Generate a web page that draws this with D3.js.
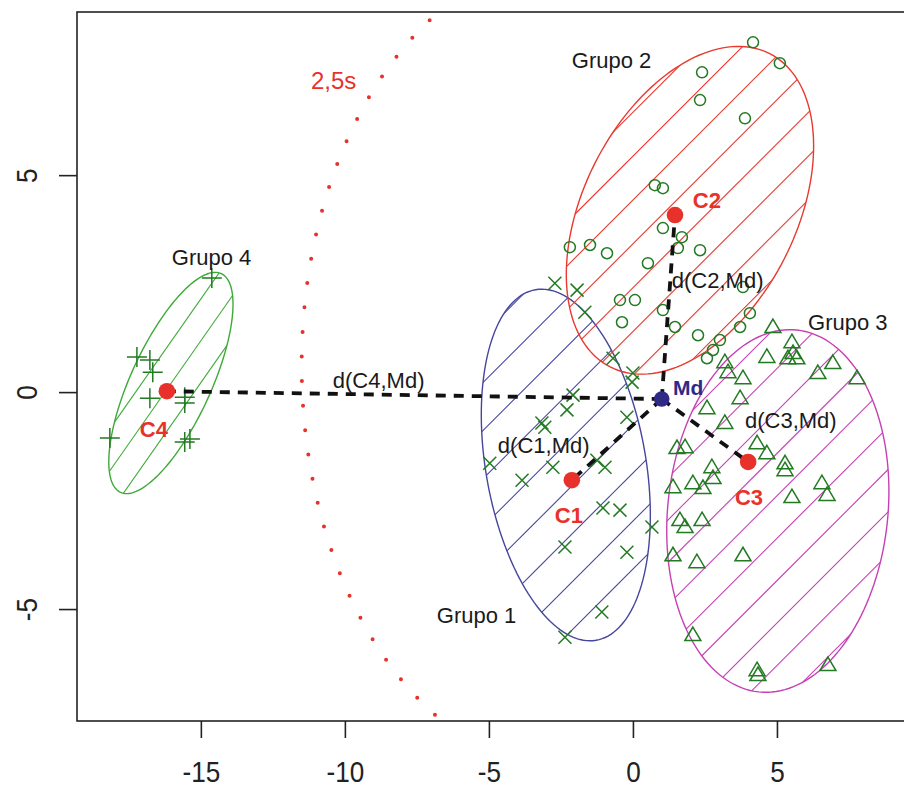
<!DOCTYPE html>
<html><head><meta charset="utf-8">
<script src="https://cdn.jsdelivr.net/npm/d3@7/dist/d3.min.js"></script>
<style>body{margin:0;background:#fff}svg{display:block;font-family:"Liberation Sans",Arial,sans-serif}</style>
</head><body><svg id="c" width="904" height="787"></svg>
<script>
// ---------- data ----------
const xLimits = [-19.3, 9.48];
const yLimits = [-7.58, 8.76];
const xTicks = [-15, -10, -5, 0, 5];
const yTicks = [-5, 0, 5];

const grupo1 = [[-2.71,2.51],[-1.94,2.35],[-1.67,1.84],[-0.69,0.78],[0.0,0.44],[-0.03,0.23],[-2.08,-0.07],[-2.29,-0.41],[-3.16,-0.71],[-3.06,-0.81],[-0.21,-0.58],[-4.97,-1.64],[-2.78,-1.73],[-3.85,-2.03],[-1.25,-1.57],[-0.97,-1.73],[-1.04,-2.67],[-0.45,-2.72],[0.66,-3.11],[-2.36,-3.57],[-0.21,-3.69],[-1.08,-5.07],[-2.36,-5.65]];
const grupo2 = [[4.17,8.06],[5.10,7.58],[2.40,7.37],[2.33,6.73],[3.89,6.31],[0.76,4.77],[1.04,4.70],[1.04,3.78],[1.70,3.57],[1.56,3.32],[2.33,3.27],[-2.19,3.34],[-1.49,3.39],[-0.90,3.20],[0.52,2.97],[-0.45,2.12],[0.07,2.12],[-0.38,1.61],[1.04,1.89],[1.46,1.50],[2.26,1.31],[3.82,2.42],[4.06,1.82],[3.72,1.50],[3.02,1.20],[2.78,0.97],[2.57,0.78]];
const grupo3 = [[4.86,1.50],[5.52,1.15],[5.56,0.90],[5.38,0.78],[5.69,0.78],[4.65,0.81],[3.19,0.69],[3.30,0.46],[3.82,0.32],[3.72,-0.14],[2.57,-0.37],[3.19,-0.71],[6.42,0.44],[6.94,0.67],[7.78,0.32],[4.31,-1.18],[4.65,-1.41],[5.28,-1.64],[5.28,-1.80],[1.53,-1.29],[1.81,-1.27],[2.74,-1.73],[2.78,-1.98],[1.39,-2.19],[2.08,-2.10],[2.43,-2.21],[5.52,-2.42],[6.56,-2.10],[6.74,-2.37],[1.63,-2.95],[1.81,-3.11],[2.40,-2.95],[1.39,-3.76],[2.22,-3.92],[3.82,-3.76],[2.08,-5.60],[4.31,-6.41],[4.34,-6.52],[6.77,-6.29]];
const grupo4 = [[-14.62,2.63],[-17.22,0.81],[-16.77,0.74],[-16.67,0.46],[-16.77,-0.14],[-15.56,-0.12],[-15.56,-0.25],[-18.16,-1.06],[-15.56,-1.15],[-15.38,-1.08]];

const centroidNames = ["C1","C2","C3","C4"];
const centroids = [[-2.12,-2.03],[1.46,4.08],[4.00,-1.61],[-16.18,0.02]];
const median = [1.00,-0.16];

// ellipse: centre + two conjugate half-axes (data units)
const ellipseCentres = [[-2.33,-1.68],[1.98,4.19],[5.03,-2.74],[-16.04,0.21]];
const ellipseAxisU = [[-1.05,4.04],[2.77,3.61],[0.66,4.17],[1.75,2.52]];
const ellipseAxisV = [[2.74,0.31],[3.28,-1.11],[3.80,-0.265],[1.26,-0.39]];

const limitCircle = {cx:-2.17, cy:0.62, r:9.33};

const groupLabels = ["Grupo 1","Grupo 2","Grupo 3","Grupo 4"];
const groupLabelPos = [[-6.81,-5.32],[-2.12,7.47],[6.08,1.43],[-16.01,2.93]];
const centroidLabelPos = [[-2.71,-3.02],[2.08,4.24],[3.54,-2.60],[-17.12,-1.04]];
const distLabels = ["d(C1,Md)","d(C2,Md)","d(C3,Md)","d(C4,Md)"];
const distLabelPos = [[-4.69,-1.41],[1.35,2.40],[3.89,-0.83],[-10.42,0.09]];
const mdLabelPos = [1.39,-0.07];
const sLabel = "2,5s";
const sLabelPos = [-11.18,6.98];

// ---------- styles ----------
const ellColors = ["#46469e","#e8392f","#c640b4","#3daa38"];
const hatchAngle = [45,45,45,55];
const hatchGap = [34,31,30,24];
const ptColor = "#227a22";
const redC = "#e8312a";
const mdColor = "#2f2a86";

const svg = d3.select("#c");
const x = d3.scaleLinear().domain(xLimits).range([77,906]);
const y = d3.scaleLinear().domain(yLimits).range([721,12]);

const defs = svg.append("defs");
defs.append("clipPath").attr("id","plotclip").append("rect")
  .attr("x",x.range()[0]).attr("y",y.range()[1])
  .attr("width",x.range()[1]-x.range()[0]).attr("height",y.range()[0]-y.range()[1]);

const plot = svg.append("g").attr("clip-path","url(#plotclip)");

// ellipses with hatch
function ellPts(i){
  const [cx,cy]=ellipseCentres[i],[ux,uy]=ellipseAxisU[i],[vx,vy]=ellipseAxisV[i];
  return d3.range(160).map(k=>{const t=2*Math.PI*k/160;
    return [x(cx+Math.cos(t)*ux+Math.sin(t)*vx), y(cy+Math.cos(t)*uy+Math.sin(t)*vy)];});
}
ellipseCentres.forEach((c,i)=>{
  const pts = ellPts(i);
  const pathD = "M"+pts.map(p=>p.join(",")).join("L")+"Z";
  defs.append("clipPath").attr("id","ell"+i).append("path").attr("d",pathD);
  const a = hatchAngle[i]*Math.PI/180;
  const dir=[Math.cos(a),-Math.sin(a)], nrm=[Math.sin(a),Math.cos(a)];
  const proj = pts.map(p=>p[0]*nrm[0]+p[1]*nrm[1]);
  const lo=d3.min(proj), hi=d3.max(proj), s=hatchGap[i];
  const g = plot.append("g").attr("clip-path","url(#ell"+i+")");
  for(let k=Math.ceil(lo/s);k<=Math.floor(hi/s);k++){
    const o=k*s, px=o*nrm[0], py=o*nrm[1];
    const ccx=x(c[0]), ccy=y(c[1]);
    const t0=(ccx-px)*dir[0]+(ccy-py)*dir[1];
    const bx=px+t0*dir[0], by=py+t0*dir[1];
    g.append("line").attr("x1",bx-400*dir[0]).attr("y1",by-400*dir[1])
      .attr("x2",bx+400*dir[0]).attr("y2",by+400*dir[1])
      .attr("stroke",ellColors[i]).attr("stroke-width",1.1);
  }
  plot.append("path").attr("d",pathD).attr("fill","none")
    .attr("stroke",ellColors[i]).attr("stroke-width",1.4);
});

// markers
const mk = plot.append("g").attr("fill","none").attr("stroke",ptColor).attr("stroke-width",1.5);
grupo1.forEach(d=>mk.append("path").attr("transform",`translate(${x(d[0])},${y(d[1])})`).attr("d","M-6.5,-6.5L6.5,6.5M-6.5,6.5L6.5,-6.5"));
grupo2.forEach(d=>mk.append("circle").attr("cx",x(d[0])).attr("cy",y(d[1])).attr("r",5.5));
grupo3.forEach(d=>mk.append("path").attr("transform",`translate(${x(d[0])},${y(d[1])})`).attr("d","M0,-8L8,5.5L-8,5.5Z"));
grupo4.forEach(d=>mk.append("path").attr("transform",`translate(${x(d[0])},${y(d[1])})`).attr("d","M-10,0L10,0M0,-10L0,10"));

// dotted limit circle (left arc)
const arcPts = d3.range(117,244,0.5).map(deg=>{const t=deg*Math.PI/180;
  return [x(limitCircle.cx+limitCircle.r*Math.cos(t)), y(limitCircle.cy+limitCircle.r*Math.sin(t))];});
plot.append("path").attr("d",d3.line()(arcPts)).attr("fill","none")
  .attr("stroke",redC).attr("stroke-width",4).attr("stroke-linecap","round")
  .attr("stroke-dasharray","0 24.6");

// dashed distance lines
centroids.forEach(c=>{
  plot.append("line").attr("x1",x(median[0])).attr("y1",y(median[1]))
    .attr("x2",x(c[0])).attr("y2",y(c[1]))
    .attr("stroke","#111").attr("stroke-width",3.8).attr("stroke-dasharray","10 8");
});

// centroids & median
centroids.forEach(c=>plot.append("circle").attr("cx",x(c[0])).attr("cy",y(c[1])).attr("r",8.3).attr("fill",redC));
plot.append("circle").attr("cx",x(median[0])).attr("cy",y(median[1])).attr("r",7.8).attr("fill",mdColor);

// labels
const lab = svg.append("g");
groupLabels.forEach((t,i)=>lab.append("text").attr("x",x(groupLabelPos[i][0])).attr("y",y(groupLabelPos[i][1]))
  .attr("font-size",22).attr("fill","#1a1a1a").text(t));
distLabels.forEach((t,i)=>lab.append("text").attr("x",x(distLabelPos[i][0])).attr("y",y(distLabelPos[i][1]))
  .attr("font-size",22).attr("fill","#1a1a1a").text(t));
centroidNames.forEach((t,i)=>lab.append("text").attr("x",x(centroidLabelPos[i][0])).attr("y",y(centroidLabelPos[i][1]))
  .attr("font-size",22).attr("font-weight","bold").attr("fill",redC).text(t));
lab.append("text").attr("x",x(mdLabelPos[0])).attr("y",y(mdLabelPos[1]))
  .attr("font-size",21).attr("font-weight","bold").attr("fill",mdColor).text("Md");
lab.append("text").attr("x",x(sLabelPos[0])).attr("y",y(sLabelPos[1]))
  .attr("font-size",24).attr("fill",redC).text(sLabel);

// frame
svg.append("rect").attr("x",x.range()[0]).attr("y",y.range()[1])
  .attr("width",x.range()[1]-x.range()[0]).attr("height",y.range()[0]-y.range()[1])
  .attr("fill","none").attr("stroke","#222").attr("stroke-width",1.6);

// axes
const ax = svg.append("g").attr("transform",`translate(0,${y.range()[0]})`)
  .call(d3.axisBottom(x).tickValues(xTicks).tickSize(17).tickFormat(d3.format("d")));
ax.select(".domain").remove();
ax.selectAll(".tick line").attr("stroke","#222").attr("stroke-width",1.6);
ax.selectAll(".tick text").attr("y",61).attr("dy",null).attr("font-size",30)
  .attr("font-family","Liberation Sans, Arial, sans-serif").attr("fill","#222")
  .attr("transform","scale(0.87,1)").text(d=>d<0?"-"+Math.abs(d):d);

const ay = svg.append("g").attr("transform",`translate(${x.range()[0]},0)`)
  .call(d3.axisLeft(y).tickValues(yTicks).tickSize(18).tickFormat(d3.format("d")));
ay.select(".domain").remove();
ay.selectAll(".tick line").attr("stroke","#222").attr("stroke-width",1.6);
ay.selectAll(".tick text").attr("x",null).attr("dy",null).attr("font-size",30)
  .attr("font-family","Liberation Sans, Arial, sans-serif").attr("fill","#222")
  .attr("text-anchor","middle")
  .attr("transform","translate(-40,0) rotate(-90) scale(0.87,1)").text(d=>d<0?"-"+Math.abs(d):d);
</script></body></html>
